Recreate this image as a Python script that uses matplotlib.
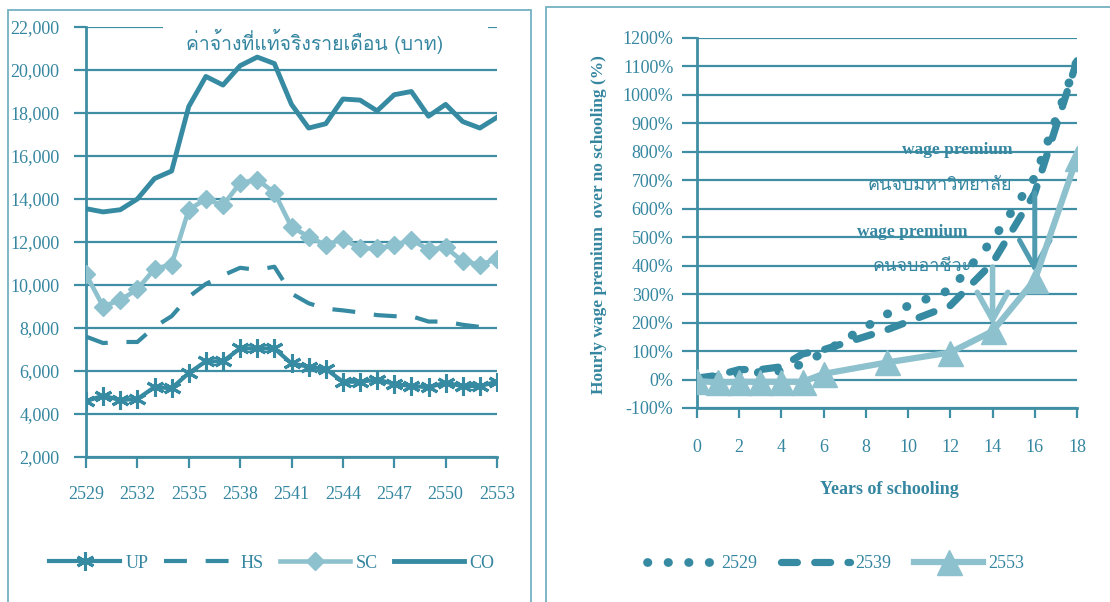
import matplotlib
matplotlib.use("Agg")
import matplotlib.pyplot as plt
from matplotlib import font_manager
from matplotlib.ft2font import FT2Font
from matplotlib.patches import Rectangle
from matplotlib.lines import Line2D
from matplotlib.ticker import FuncFormatter, MultipleLocator

# --- left chart: real monthly wage (baht) by education level ---
years = list(range(2529, 2554))
wage_up = [4600, 4850, 4650, 4700, 5250, 5200, 5900, 6450, 6450, 7050, 7050, 7050,
           6350, 6200, 6100, 5500, 5500, 5600, 5400, 5300, 5250, 5450, 5300, 5300, 5500]
wage_hs = [7600, 7300, 7350, 7350, 8050, 8550, 9450, 10050, 10450, 10800, 10700, 10850,
           9600, 9150, 8900, 8820, 8720, 8600, 8550, 8550, 8300, 8300, 8150, 8050, 8000]
wage_sc = [10500, 9000, 9300, 9800, 10750, 10950, 13500, 14000, 13700, 14750, 14900, 14300,
           12700, 12250, 11850, 12150, 11700, 11700, 11850, 12100, 11650, 11750, 11100, 10950, 11200]
wage_co = [13550, 13400, 13500, 14000, 14950, 15300, 18300, 19700, 19300, 20200, 20600, 20300,
           18400, 17300, 17500, 18650, 18600, 18100, 18850, 19000, 17850, 18400, 17600, 17300, 17800]

# --- right chart: hourly wage premium over no schooling (%) ---
schooling = [0, 1, 2, 3, 4, 5, 6, 9, 12, 14, 16, 18]
prem_2529 = [0, 10, 20, 25, 30, 55, 95, 230, 315, 490, 710, 1120]
prem_2539 = [5, 15, 35, 35, 45, 90, 105, 175, 260, 410, 655, 1120]
prem_2553 = [-5, -10, -8, -8, -8, -8, 20, 60, 95, 170, 350, 780]

DARK = "#368aa1"
LIGHT = "#8ec1ce"
MID = "#4f9bb0"
GRID = "#3f8ea4"
TEXT = "#3586a0"
FRAME = "#74b1c2"

W, H = 1110, 602


def fx(px):
    return px / W


def fy(py):
    return 1 - py / H


def find_thai_font():
    seen = set()
    for f in font_manager.fontManager.ttflist:
        if f.fname in seen:
            continue
        seen.add(f.fname)
        try:
            if 0x0E04 in FT2Font(f.fname).get_charmap():
                return f.name
        except Exception:
            pass
    return None


thai = find_thai_font()
SERIF = "Liberation Serif"
thai_family = [thai, SERIF] if thai else [SERIF]

plt.rcParams["font.family"] = [SERIF, "DejaVu Serif"]
plt.rcParams["text.color"] = TEXT

fig = plt.figure(figsize=(W / 100, H / 100), dpi=100)

# panel frames
fig.patches.append(Rectangle((fx(8), fy(606)), fx(531 - 8), (606 - 10) / H,
                             transform=fig.transFigure, fill=False,
                             edgecolor=FRAME, lw=1.3))
fig.patches.append(Rectangle((fx(546), fy(606)), fx(1120 - 546), (606 - 7) / H,
                             transform=fig.transFigure, fill=False,
                             edgecolor=FRAME, lw=1.3))


def style_axes(ax):
    for s in ["top", "right"]:
        ax.spines[s].set_visible(False)
    for s in ["left", "bottom"]:
        ax.spines[s].set_color(GRID)
        ax.spines[s].set_linewidth(2)
    ax.yaxis.grid(True, color=GRID, lw=1.6)
    ax.set_axisbelow(True)
    ax.tick_params(axis="both", direction="out", colors=GRID, width=1.6,
                   labelcolor=TEXT, labelsize=13)


# ---------------- left chart ----------------
ax1 = fig.add_axes([fx(86), fy(457), (497 - 86) / W, (457 - 27) / H])
style_axes(ax1)
ax1.set_xlim(2529, 2553)
ax1.set_ylim(2000, 22000)
ax1.yaxis.set_major_locator(MultipleLocator(2000))
ax1.yaxis.set_major_formatter(FuncFormatter(lambda v, p: f"{int(v):,}"))
ax1.xaxis.set_major_locator(MultipleLocator(3))
ax1.tick_params(axis="y", length=9, pad=10)
ax1.tick_params(axis="x", length=8, pad=13)

ax1.plot(years, wage_hs, color=DARK, lw=3, ls=(0, (5.5, 4.5)), zorder=3)
ax1.plot(years, wage_up, color=DARK, lw=3, marker=(6, 2, 0), ms=13,
         mew=2.2, zorder=4)
ax1.plot(years, wage_sc, color=LIGHT, lw=3.3, marker="D", ms=9,
         mec=LIGHT, zorder=4)
ax1.plot(years, wage_co, color=DARK, lw=3.5, zorder=5)

ax1.add_patch(Rectangle((0.187, 0.935), 0.79, 0.08, transform=ax1.transAxes,
                        facecolor="white", edgecolor="none", clip_on=False, zorder=2.5))
ax1.text(0.555, 0.967, "ค่าจ้างที่แท้จริงรายเดือน (บาท)", transform=ax1.transAxes,
         ha="center", va="center", fontsize=14, color=TEXT, family=thai_family,
         zorder=6)

h1 = [Line2D([], [], color=DARK, lw=3, marker=(6, 2, 0), ms=13, mew=2.2),
      Line2D([], [], color=DARK, lw=3, ls=(0, (5.5, 4.5))),
      Line2D([], [], color=LIGHT, lw=3.3, marker="D", ms=9, mec=LIGHT),
      Line2D([], [], color=DARK, lw=3.5)]
fig.legend(h1, ["UP", "HS", "SC", "CO"], loc="center",
           bbox_to_anchor=(fx(272), fy(563)), ncol=4, frameon=False,
           fontsize=13, handlelength=3.9, handletextpad=0.3,
           columnspacing=0.9, labelcolor=TEXT)

# ---------------- right chart ----------------
ax2 = fig.add_axes([fx(697), fy(408), (1077 - 697) / W, (408 - 38) / H])
style_axes(ax2)
ax2.set_xlim(0, 18)
ax2.set_ylim(-100, 1200)
ax2.yaxis.set_major_locator(MultipleLocator(100))
ax2.yaxis.set_major_formatter(FuncFormatter(lambda v, p: f"{int(v)}%"))
ax2.xaxis.set_major_locator(MultipleLocator(2))
ax2.tick_params(axis="y", length=11, pad=6)
ax2.tick_params(axis="x", length=7, pad=15)

DOTS = (0, (0.05, 2.3))
DASH = (0, (2.2, 2.4))
ax2.plot(schooling, prem_2529, color=DARK, lw=6.3, ls=DOTS,
         dash_capstyle="round", zorder=3)
ax2.plot(schooling, prem_2539, color=DARK, lw=5.2, ls=DASH,
         dash_capstyle="round", zorder=3)
ax2.plot(schooling, prem_2553, color=LIGHT, lw=4.5, marker="^", ms=18,
         mec=LIGHT, zorder=5)

ax2.annotate("", xy=(14, 180), xytext=(14, 405),
             arrowprops=dict(arrowstyle="->,head_length=0.9,head_width=0.5",
                             color=LIGHT, lw=4, mutation_scale=22), zorder=4)
ax2.annotate("", xy=(16, 365), xytext=(16, 665),
             arrowprops=dict(arrowstyle="->,head_length=0.9,head_width=0.5",
                             color=MID, lw=3.6, mutation_scale=22), zorder=4)

ax2.text(14.95, 806, "wage premium", ha="right", va="center", fontsize=12.5,
         fontweight="bold", color=TEXT, zorder=6)
ax2.text(14.95, 683, "คนจบมหาวิทยาลัย", ha="right", va="center", fontsize=13,
         color=TEXT, family=thai_family, zorder=6)
ax2.text(12.8, 518, "wage premium", ha="right", va="center", fontsize=12.5,
         fontweight="bold", color=TEXT, zorder=6)
ax2.text(13.0, 400, "คนจบอาชีวะ", ha="right", va="center", fontsize=13,
         color=TEXT, family=thai_family, zorder=6)

fig.text(fx(599), fy(225), "Hourly wage premium  over no schooling (%)",
         rotation=90, ha="center", va="center", fontsize=12.5, fontweight="bold",
         color=TEXT)
fig.text(fx(889), fy(489), "Years of schooling", ha="center", va="center",
         fontsize=13, fontweight="bold", color=TEXT)

h2 = [Line2D([], [], color=DARK, lw=6.3, ls=DOTS, dash_capstyle="round"),
      Line2D([], [], color=DARK, lw=5.2, ls=DASH, dash_capstyle="round"),
      Line2D([], [], color=LIGHT, lw=4.5, marker="^", ms=18, mec=LIGHT)]
fig.legend(h2, ["2529", "2539", "2553"], loc="center",
           bbox_to_anchor=(fx(836), fy(564)), ncol=3, frameon=False,
           fontsize=13, handlelength=3.8, handletextpad=0.3,
           columnspacing=1.3, labelcolor=TEXT)

fig.savefig("out.png", dpi=100)
